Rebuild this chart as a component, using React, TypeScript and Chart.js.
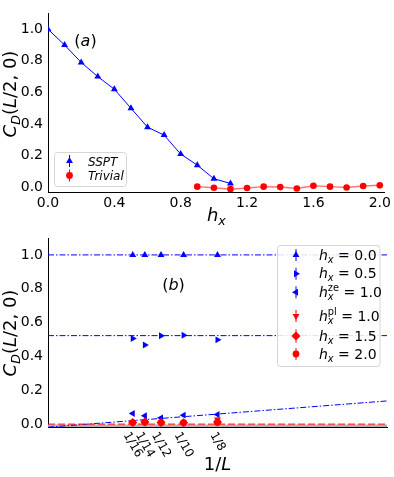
import React, { useEffect, useRef } from "react";
import { Chart, registerables } from "chart.js";
Chart.register(...registerables);

// ---------- data: panel (a) ----------
const hxSSPT = [0.0, 0.1, 0.2, 0.3, 0.4, 0.5, 0.6, 0.7, 0.8, 0.9, 1.0, 1.1];
const cdSSPT = [1.0, 0.9, 0.79, 0.7, 0.62, 0.5, 0.38, 0.33, 0.21, 0.14, 0.054, 0.024];
const hxTrivial = [0.9, 1.0, 1.1, 1.2, 1.3, 1.4, 1.5, 1.6, 1.7, 1.8, 1.9, 2.0];
const cdTrivial = [0.004, -0.003, -0.012, -0.005, 0.004, 0.001, -0.008, 0.01, 0.004, -0.002, 0.008, 0.012];
const topXTicks = [0.0, 0.4, 0.8, 1.2, 1.6, 2.0];
const yTicks = [0.0, 0.2, 0.4, 0.6, 0.8, 1.0];

// ---------- data: panel (b) ----------
const invL = [1 / 16, 1 / 14, 1 / 12, 1 / 10, 1 / 8];
const invLLabels = ["1/16", "1/14", "1/12", "1/10", "1/8"];
const cdH00 = [1.0, 1.0, 1.0, 1.0, 1.0];
const cdH05 = [0.506, 0.468, 0.522, 0.525, 0.498];
const cdHze = [0.063, 0.05, 0.037, 0.053, 0.057];
const cdHpl = [0.012, 0.012, 0.01, 0.008, 0.028];
const cdH15 = [0.01, 0.012, 0.01, 0.008, 0.012];
const cdH20 = [0.009, 0.011, 0.009, 0.008, 0.01];
const fitX = [0.0, 0.25];
const fitH00 = [1.0, 1.0];
const fitH05 = [0.523, 0.523];
const fitHze = [-0.018, 0.137];
const fitRed = [0.0, 0.0];
const baseGray = [-0.011, -0.011];

const BLUE = "#0000ff";
const RED = "#ff0000";
const FONT = '"DejaVu Sans", "Liberation Sans", sans-serif';

type Part = { t?: string; it?: boolean; sub?: boolean; stack?: [string, string] };

const fnt = (size: number, it?: boolean) => `${it ? "italic " : ""}${size}px ${FONT}`;

function measureRich(ctx: CanvasRenderingContext2D, parts: Part[], size: number) {
  let w = 0;
  for (const p of parts) {
    if (p.stack) {
      ctx.font = fnt(size * 0.7, false);
      const a = ctx.measureText(p.stack[0]).width;
      ctx.font = fnt(size * 0.7, true);
      const b = ctx.measureText(p.stack[1]).width;
      w += Math.max(a, b);
    } else {
      ctx.font = fnt(p.sub ? size * 0.7 : size, p.it);
      w += ctx.measureText(p.t || "").width;
    }
  }
  return w;
}

function drawRich(ctx: CanvasRenderingContext2D, parts: Part[], x: number, y: number, size: number, align: "left" | "center") {
  ctx.save();
  ctx.fillStyle = "#000";
  ctx.textBaseline = "alphabetic";
  ctx.textAlign = "left";
  const w = measureRich(ctx, parts, size);
  let cx = align === "center" ? x - w / 2 : x;
  for (const p of parts) {
    if (p.stack) {
      ctx.font = fnt(size * 0.7, false);
      const a = ctx.measureText(p.stack[0]).width;
      ctx.fillText(p.stack[0], cx, y - size * 0.42);
      ctx.font = fnt(size * 0.7, true);
      const b = ctx.measureText(p.stack[1]).width;
      ctx.fillText(p.stack[1], cx, y + size * 0.22);
      cx += Math.max(a, b);
    } else {
      ctx.font = fnt(p.sub ? size * 0.7 : size, p.it);
      ctx.fillText(p.t || "", cx, p.sub ? y + size * 0.22 : y);
      cx += ctx.measureText(p.t || "").width;
    }
  }
  ctx.restore();
}

function drawMarker(ctx: CanvasRenderingContext2D, style: string, x: number, y: number, r: number, color: string) {
  ctx.save();
  ctx.fillStyle = color;
  ctx.strokeStyle = color;
  ctx.lineWidth = 1;
  ctx.beginPath();
  ctx.moveTo(x, y - r * 1.5);
  ctx.lineTo(x, y + r * 1.5);
  ctx.stroke();
  ctx.beginPath();
  const tri = (rot: number) => {
    for (let k = 0; k < 3; k++) {
      const a = rot + (k * 2 * Math.PI) / 3;
      const px = x + Math.sin(a) * r;
      const py = y - Math.cos(a) * r;
      if (k) ctx.lineTo(px, py);
      else ctx.moveTo(px, py);
    }
  };
  if (style === "up") tri(0);
  else if (style === "down") tri(Math.PI);
  else if (style === "right") tri(Math.PI / 2);
  else if (style === "left") tri(-Math.PI / 2);
  else if (style === "diamond") {
    ctx.moveTo(x, y - r);
    ctx.lineTo(x + r, y);
    ctx.lineTo(x, y + r);
    ctx.lineTo(x - r, y);
  } else ctx.arc(x, y, r * 0.85, 0, Math.PI * 2);
  ctx.closePath();
  ctx.fill();
  ctx.restore();
}

function legendBox(ctx: CanvasRenderingContext2D, x: number, y: number, w: number, h: number) {
  ctx.save();
  ctx.fillStyle = "rgba(255,255,255,0.85)";
  ctx.strokeStyle = "#d6d6d6";
  ctx.lineWidth = 1;
  ctx.beginPath();
  const r = 3;
  ctx.moveTo(x + r, y);
  ctx.arcTo(x + w, y, x + w, y + h, r);
  ctx.arcTo(x + w, y + h, x, y + h, r);
  ctx.arcTo(x, y + h, x, y, r);
  ctx.arcTo(x, y, x + w, y, r);
  ctx.closePath();
  ctx.fill();
  ctx.stroke();
  ctx.restore();
}

const yTitle: Part[] = [{ t: "C", it: true }, { t: "D", it: true, sub: true }, { t: "(" }, { t: "L", it: true }, { t: "/2, 0)" }];

const pts = (xs: number[], ys: number[]) => xs.map((x, i) => ({ x, y: ys[i] }));

const axisCommon = {
  grid: { display: false, drawTicks: false },
  border: { display: true, color: "#000", width: 1 },
};

export default function App() {
  const c1 = useRef<HTMLCanvasElement>(null);
  const c2 = useRef<HTMLCanvasElement>(null);

  useEffect(() => {
    const deco1 = {
      id: "deco1",
      afterDraw(chart: any) {
        const ctx = chart.ctx as CanvasRenderingContext2D;
        const ca = chart.chartArea;
        ctx.save();
        ctx.translate(16, 94);
        ctx.rotate(-Math.PI / 2);
        drawRich(ctx, yTitle, 0, 0, 18, "center");
        ctx.restore();
        drawRich(ctx, [{ t: "h", it: true }, { t: "x", it: true, sub: true }], (ca.left + ca.right) / 2, 221, 18, "center");
        drawRich(ctx, [{ t: "(" }, { t: "a", it: true }, { t: ")" }], 85.5, 45.5, 16, "center");
        legendBox(ctx, 54.5, 152.5, 72, 34);
        drawMarker(ctx, "up", 69.5, 161, 4, BLUE);
        drawMarker(ctx, "circle", 69.5, 175.5, 4, RED);
        drawRich(ctx, [{ t: "SSPT", it: true }], 88, 165.5, 12, "left");
        drawRich(ctx, [{ t: "Trivial", it: true }], 88, 180, 12, "left");
      },
    };

    const chart1 = new Chart(c1.current!, {
      type: "scatter",
      data: {
        datasets: [
          {
            label: "SSPT",
            data: pts(hxSSPT, cdSSPT),
            showLine: true,
            borderColor: BLUE,
            backgroundColor: BLUE,
            borderWidth: 1,
            pointStyle: "triangle",
            pointRadius: 4,
            pointBorderWidth: 0,
          },
          {
            label: "Trivial",
            data: pts(hxTrivial, cdTrivial),
            showLine: true,
            borderColor: "rgba(255,0,0,0.55)",
            backgroundColor: RED,
            borderWidth: 1.5,
            pointStyle: "circle",
            pointRadius: 3.3,
            pointBorderWidth: 0,
          },
        ],
      },
      options: {
        animation: false,
        responsive: false,
        layout: { padding: { left: 0, right: 7, top: 3, bottom: 0 } },
        plugins: { legend: { display: false }, tooltip: { enabled: false } },
        scales: {
          x: {
            type: "linear",
            min: 0,
            max: 2.03,
            ...axisCommon,
            afterBuildTicks: (s: any) => {
              s.ticks = topXTicks.map((v) => ({ value: v }));
            },
            afterFit: (s: any) => {
              s.height = 40;
            },
            ticks: { color: "#000", font: { family: FONT, size: 14 }, padding: 3, maxRotation: 0, callback: (v: any) => Number(v).toFixed(1) },
          },
          y: {
            type: "linear",
            min: -0.03,
            max: 1.1,
            ...axisCommon,
            afterBuildTicks: (s: any) => {
              s.ticks = yTicks.map((v) => ({ value: v }));
            },
            afterFit: (s: any) => {
              s.width = 48;
            },
            ticks: { color: "#000", font: { family: FONT, size: 14 }, padding: 5, callback: (v: any) => Number(v).toFixed(1) },
          },
        },
      },
      plugins: [deco1],
    } as any);

    const deco2 = {
      id: "deco2",
      afterDraw(chart: any) {
        const ctx = chart.ctx as CanvasRenderingContext2D;
        const ca = chart.chartArea;
        const xs = chart.scales.x;
        ctx.save();
        ctx.translate(16, 113);
        ctx.rotate(-Math.PI / 2);
        drawRich(ctx, yTitle, 0, 0, 18, "center");
        ctx.restore();
        drawRich(ctx, [{ t: "1/" }, { t: "L", it: true }], (ca.left + ca.right) / 2, 250, 18, "center");
        drawRich(ctx, [{ t: "(" }, { t: "b", it: true }, { t: ")" }], 173.5, 70, 16, "center");
        // rotated tick labels
        ctx.save();
        ctx.font = fnt(12, false);
        ctx.fillStyle = "#000";
        ctx.textAlign = "center";
        ctx.textBaseline = "middle";
        invL.forEach((v, i) => {
          const px = xs.getPixelForValue(v);
          const w = ctx.measureText(invLLabels[i]).width;
          const hh = (w * Math.sin(Math.PI / 3) + 9 * Math.cos(Math.PI / 3)) / 2;
          ctx.save();
          ctx.translate(px, ca.bottom + 4 + hh);
          ctx.rotate(Math.PI / 3);
          ctx.fillText(invLLabels[i], 0, 0);
          ctx.restore();
        });
        ctx.restore();
        // legend
        legendBox(ctx, 277.5, 25.5, 102.5, 121);
        const mx = 296;
        const tx = 319;
        const entries: { s: string; c: string; y: number; parts: Part[] }[] = [
          { s: "up", c: BLUE, y: 35, parts: [{ t: "h", it: true }, { t: "x", it: true, sub: true }, { t: " = 0.0" }] },
          { s: "right", c: BLUE, y: 53.7, parts: [{ t: "h", it: true }, { t: "x", it: true, sub: true }, { t: " = 0.5" }] },
          { s: "left", c: BLUE, y: 72.3, parts: [{ t: "h", it: true }, { stack: ["ze", "x"] }, { t: " = 1.0" }] },
          { s: "down", c: RED, y: 96, parts: [{ t: "h", it: true }, { stack: ["pl", "x"] }, { t: " = 1.0" }] },
          { s: "diamond", c: RED, y: 116, parts: [{ t: "h", it: true }, { t: "x", it: true, sub: true }, { t: " = 1.5" }] },
          { s: "circle", c: RED, y: 134, parts: [{ t: "h", it: true }, { t: "x", it: true, sub: true }, { t: " = 2.0" }] },
        ];
        for (const e of entries) {
          drawMarker(ctx, e.s, mx, e.y, e.s === "diamond" ? 4.5 : 4, e.c);
          drawRich(ctx, e.parts, tx, e.y + 4.5, 14, "left");
        }
      },
    };

    const lineDs = (data: number[], color: string, dash: number[], width = 1, order = 10) => ({
      data: pts(fitX, data),
      showLine: true,
      borderColor: color,
      borderWidth: width,
      borderDash: dash,
      pointRadius: 0,
      order,
    });
    const markDs = (data: number[], color: string, style: string, rot: number, r: number, order: number) => ({
      data: pts(invL, data),
      showLine: false,
      backgroundColor: color,
      borderColor: color,
      pointStyle: style,
      pointRotation: rot,
      pointRadius: r,
      pointBorderWidth: 0,
      order,
    });
    const DASHDOT = [6, 2, 1.5, 2];

    const chart2 = new Chart(c2.current!, {
      type: "scatter",
      data: {
        datasets: [
          lineDs(baseGray, "#b0b0b0", [], 3, 12),
          lineDs(fitH00, BLUE, DASHDOT),
          lineDs(fitH05, BLUE, DASHDOT),
          lineDs(fitHze, BLUE, DASHDOT),
          lineDs(fitRed, RED, [7, 3], 1, 9),
          markDs(cdH00, BLUE, "triangle", 0, 4, 6),
          markDs(cdH05, BLUE, "triangle", 90, 4, 5),
          markDs(cdHze, BLUE, "triangle", -90, 4, 4),
          markDs(cdHpl, RED, "triangle", 180, 4, 3),
          markDs(cdH15, RED, "rectRot", 0, 4.5, 2),
          markDs(cdH20, RED, "circle", 0, 3.4, 1),
        ],
      },
      options: {
        animation: false,
        responsive: false,
        layout: { padding: { left: 0, right: 7, top: 18, bottom: 0 } },
        plugins: { legend: { display: false }, tooltip: { enabled: false } },
        scales: {
          x: {
            type: "linear",
            min: 0,
            max: 0.25,
            ...axisCommon,
            afterBuildTicks: (s: any) => {
              s.ticks = invL.map((v) => ({ value: v }));
            },
            afterFit: (s: any) => {
              s.height = 50;
            },
            ticks: { display: false },
          },
          y: {
            type: "linear",
            min: -0.017,
            max: 1.1,
            ...axisCommon,
            afterBuildTicks: (s: any) => {
              s.ticks = yTicks.map((v) => ({ value: v }));
            },
            afterFit: (s: any) => {
              s.width = 48;
            },
            ticks: { color: "#000", font: { family: FONT, size: 14 }, padding: 5, callback: (v: any) => Number(v).toFixed(1) },
          },
        },
      },
      plugins: [deco2],
    } as any);

    return () => {
      chart1.destroy();
      chart2.destroy();
    };
  }, []);

  return (
    <div style={{ position: "absolute", left: 0, top: 0, width: 394, height: 477, background: "#fff" }}>
      <canvas ref={c1} width={394} height={232} style={{ position: "absolute", left: 0, top: 0, display: "block" }} />
      <canvas ref={c2} width={394} height={257} style={{ position: "absolute", left: 0, top: 220, display: "block" }} />
    </div>
  );
}
